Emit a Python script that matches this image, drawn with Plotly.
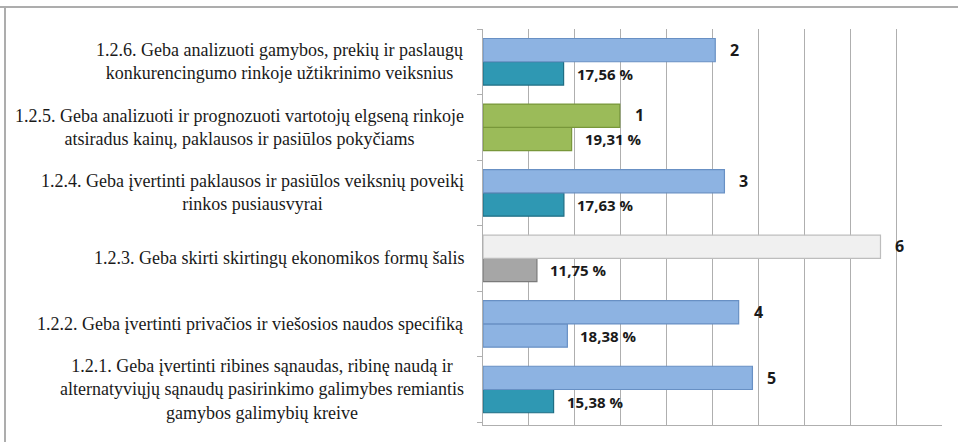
import plotly.graph_objects as go

# Categories listed bottom-to-top
categories = [
    "1.2.1. Geba įvertinti ribines sąnaudas, ribinę naudą ir<br>alternatyviųjų sąnaudų pasirinkimo galimybes remiantis<br>gamybos galimybių kreive",
    "1.2.2. Geba įvertinti privačios ir viešosios naudos specifiką",
    "1.2.3. Geba skirti skirtingų ekonomikos formų šalis",
    "1.2.4. Geba įvertinti paklausos ir pasiūlos veiksnių poveikį<br>rinkos pusiausvyrai",
    "1.2.5. Geba analizuoti ir prognozuoti vartotojų elgseną rinkoje<br>atsiradus kainų, paklausos ir pasiūlos pokyčiams",
    "1.2.6. Geba analizuoti gamybos, prekių ir paslaugų<br>konkurencingumo rinkoje užtikrinimo veiksnius",
]
cat_ids = ["c121", "c122", "c123", "c124", "c125", "c126"]

rank_values = [58.7, 55.7, 86.6, 52.6, 29.8, 50.6]
rank_labels = ["5", "4", "6", "3", "1", "2"]
pct_values = [15.38, 18.38, 11.75, 17.63, 19.31, 17.56]
pct_labels = ["15,38 %", "18,38 %", "11,75 %", "17,63 %", "19,31 %", "17,56 %"]

BLUE, BLUE_L = "#8DB3E2", "#6890C4"
TEAL, TEAL_L = "#2F98B3", "#1F6E84"
GREEN, GREEN_L = "#9BBB59", "#78973A"
WHITE, WHITE_L = "#F0F0F0", "#BDBDBD"
GRAY, GRAY_L = "#A6A6A6", "#7A7A7A"

rank_colors = [BLUE, BLUE, WHITE, BLUE, GREEN, BLUE]
rank_lines = [BLUE_L, BLUE_L, WHITE_L, BLUE_L, GREEN_L, BLUE_L]
pct_colors = [TEAL, BLUE, GRAY, TEAL, GREEN, TEAL]
pct_lines = [TEAL_L, BLUE_L, GRAY_L, TEAL_L, GREEN_L, TEAL_L]

fig = go.Figure()
fig.add_trace(go.Bar(
    y=cat_ids, x=pct_values, orientation="h",
    marker=dict(color=pct_colors, line=dict(color=pct_lines, width=1.2)),
    hoverinfo="skip", showlegend=False,
))
fig.add_trace(go.Bar(
    y=cat_ids, x=rank_values, orientation="h",
    marker=dict(color=rank_colors, line=dict(color=rank_lines, width=1.2)),
    hoverinfo="skip", showlegend=False,
))

annotations = []
for cid, cat, rv, rl, pv, pl in zip(cat_ids, categories, rank_values, rank_labels, pct_values, pct_labels):
    annotations.append(dict(
        x=0, xref="paper", y=cid, yref="y", text=cat, showarrow=False,
        xanchor="right", yanchor="middle", align="center", xshift=-17,
        font=dict(family="Liberation Serif", size=18, color="#1a1a1a"),
    ))
    annotations.append(dict(
        x=rv, y=cid, text="<b>" + rl + "</b>", showarrow=False, xanchor="left", yanchor="middle",
        xshift=13, yshift=12,
        font=dict(family="Open Sans", size=16, color="#1a1a1a"),
    ))
    annotations.append(dict(
        x=pv, y=cid, text="<b>" + pl + "</b>", showarrow=False, xanchor="left", yanchor="middle",
        xshift=11, yshift=-12,
        font=dict(family="Open Sans", size=15, color="#1a1a1a"),
    ))

fig.update_layout(
    width=958, height=442,
    margin=dict(l=483, r=16, t=29, b=17),
    paper_bgcolor="white", plot_bgcolor="white",
    barmode="group", bargap=0.29, bargroupgap=0,
    annotations=annotations,
    xaxis=dict(range=[0, 100], dtick=10, showgrid=True, gridcolor="#AFAFAF", gridwidth=1,
               showticklabels=False, zeroline=False, showline=True, linecolor="#AFAFAF",
               ticks="", fixedrange=True),
    yaxis=dict(type="category", categoryorder="array", categoryarray=cat_ids,
               showticklabels=False, tickson="boundaries", ticks="outside", ticklen=5,
               tickcolor="#AFAFAF", showline=True, linecolor="#AFAFAF", showgrid=False,
               fixedrange=True),
    shapes=[
        dict(type="line", xref="paper", yref="paper", x0=-483/459, x1=2, y0=1+22/396, y1=1+22/396,
             line=dict(color="#ADADAD", width=2)),
        dict(type="line", xref="paper", yref="paper", x0=-478/459, x1=-478/459, y0=1+22/396, y1=-1,
             line=dict(color="#ADADAD", width=2)),
    ],
)

fig.write_html("out.html")
